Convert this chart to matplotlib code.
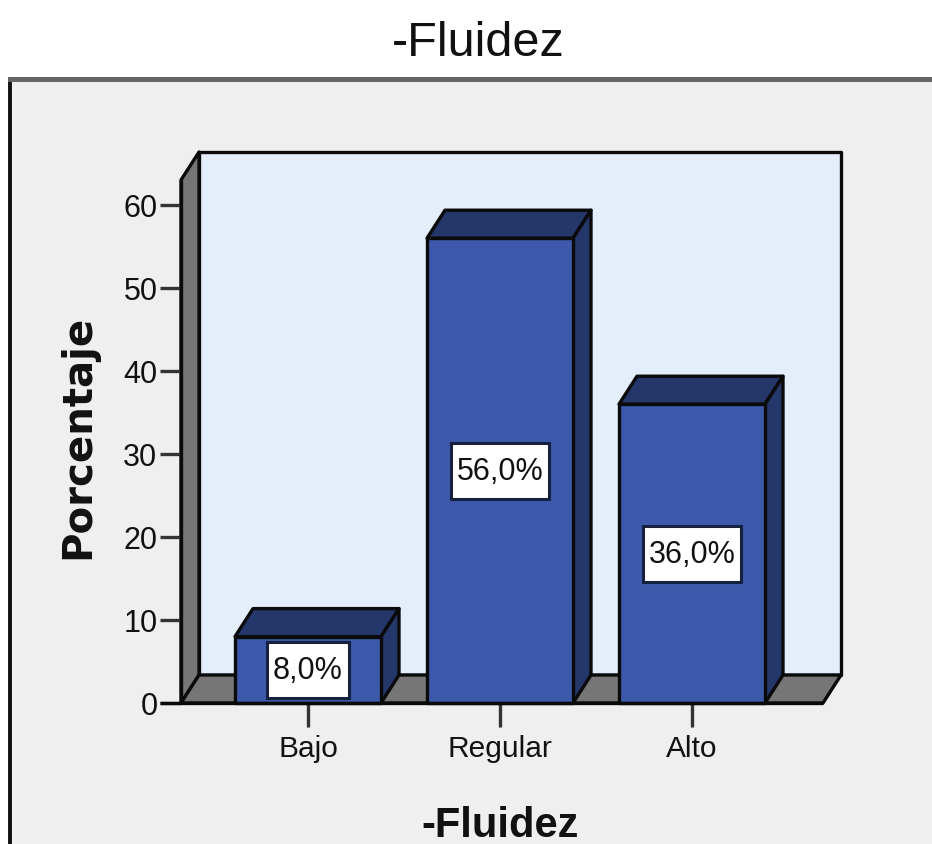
import matplotlib
matplotlib.use('Agg')
import matplotlib.pyplot as plt
import matplotlib.patches as patch

categories = ['Bajo', 'Regular', 'Alto']
values = [8.0, 56.0, 36.0]
value_labels = ['8,0%', '56,0%', '36,0%']
y_ticks = [0, 10, 20, 30, 40, 50, 60]

W, H = 932, 845
plt.rcParams['font.family'] = ['Liberation Sans', 'DejaVu Sans']

fig = plt.figure(figsize=(W/100, H/100), dpi=100, facecolor='white')

# panel gris de fondo, se sale por abajo y por la derecha
fig.add_artist(patch.Rectangle((10/W, -0.1), 1.0, (H-81)/H+0.1, transform=fig.transFigure,
                               facecolor='#efefef', edgecolor='#111111', linewidth=2.8, zorder=-2))
fig.add_artist(patch.Rectangle((8/W, 1-83/H), 1.0, 5/H, transform=fig.transFigure,
                               facecolor='#666666', edgecolor='none', zorder=-1))

# ejes en el plano frontal: x 181-823 px, y 704-181 px
ax = fig.add_axes([181/W, 1-704/H, (823-181)/W, (704-181)/H])
ax.patch.set_visible(False)
px_x = 192.0
px_y = 8.3
ax.set_xlim((181-308)/px_x, (823-308)/px_x)
ax.set_ylim(0, (704-181)/px_y)
x0, x1 = ax.get_xlim()
y0, y1 = ax.get_ylim()

# profundidad 3D en unidades de datos
dx = 18/px_x
dy = 28/px_y
edge = '#0a0a0a'
lw = 2.4

def poly(pts, color, z, ec=edge):
    ax.add_patch(patch.Polygon(pts, closed=True, facecolor=color, edgecolor=ec,
                               linewidth=lw, joinstyle='round', clip_on=False, zorder=z))

# pared del fondo, pared lateral y suelo
poly([(x0+dx, y0+dy), (x1+dx, y0+dy), (x1+dx, y1+dy), (x0+dx, y1+dy)], '#e3eefa', 1)
poly([(x0, y0), (x0+dx, y0+dy), (x0+dx, y1+dy), (x0, y1)], '#767676', 1.1)
poly([(x0, y0), (x1, y0), (x1+dx, y0+dy), (x0+dx, y0+dy)], '#767676', 1.2)

# barras
bar_w = 146/px_x
for i in range(len(values)):
    l = i - bar_w/2
    r = i + bar_w/2
    v = values[i]
    poly([(l, v), (r, v), (r+dx, v+dy), (l+dx, v+dy)], '#25366b', 3)
    poly([(r, 0), (r+dx, dy), (r+dx, v+dy), (r, v)], '#25366b', 3)
    poly([(l, 0), (r, 0), (r, v), (l, v)], '#3e59ab', 3.1)
    # etiqueta blanca centrada en la barra
    box_w = (82 if len(value_labels[i]) < 5 else 98)/px_x
    box_h = 56/px_y
    ax.add_patch(patch.Rectangle((i-box_w/2, v/2-box_h/2), box_w, box_h, facecolor='white',
                                 edgecolor='#16203f', linewidth=2.2, clip_on=False, zorder=5))
    ax.text(i, v/2, value_labels[i], ha='center', va='center', fontsize=22, color='#111111', zorder=6)

# linea base mas larga (llega hasta las marcas)
for s in ['top', 'right', 'left', 'bottom']:
    ax.spines[s].set_visible(False)
ax.plot([x0-21/px_x, x1], [0, 0], color=edge, linewidth=lw, clip_on=False, zorder=4, solid_capstyle='butt')
ax.plot([x0, x0], [y0, y1], color=edge, linewidth=lw, clip_on=False, zorder=2, solid_capstyle='butt')

ax.set_xticks(range(len(categories)))
ax.set_xticklabels(categories, fontsize=21.5, color='#111111')
ax.set_yticks(y_ticks)
ax.set_yticklabels([str(t) for t in y_ticks], fontsize=22, color='#111111')
ax.tick_params(axis='x', length=17, width=2.4, color='#333333', pad=5)
ax.tick_params(axis='y', length=15, width=2.4, color='#333333', pad=2)

fig.text(78/W, 1-437/H, 'Porcentaje', rotation=90, ha='center', va='center',
         fontsize=29, fontweight='bold', color='#111111', family='DejaVu Sans')
fig.text(500/W, 1-826/H, '-Fluidez', ha='center', va='center', fontsize=30,
         fontweight='bold', color='#111111')
fig.text(478/W, 1-43/H, '-Fluidez', ha='center', va='center', fontsize=35, color='#111111')

plt.savefig('out.png', dpi=100)
